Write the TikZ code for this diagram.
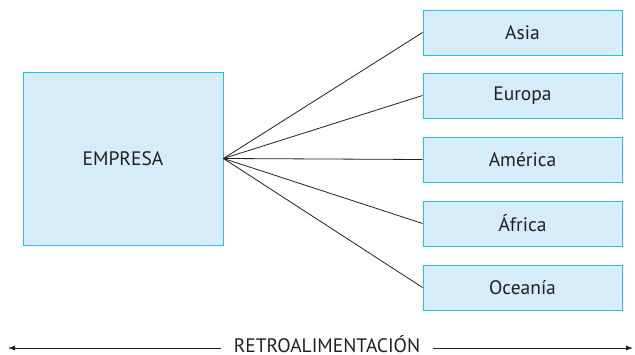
\documentclass[tikz,border=0pt]{standalone}
\usepackage{fontspec}
\setmainfont{PT Sans}
\usetikzlibrary{arrows.meta}
\definecolor{cajafondo}{RGB}{214,236,249}
\definecolor{cajaborde}{RGB}{40,190,235}
\definecolor{trazo}{RGB}{35,31,32}
\tikzset{
  caja/.style={draw=cajaborde, fill=cajafondo, line width=0.9pt, text=trazo, inner sep=0pt},
  region/.style={caja, minimum width=199pt, minimum height=45pt},
  enlace/.style={draw=trazo, line width=0.8pt}
}
\begin{document}
\begin{tikzpicture}[x=1pt, y=-1pt, font=\fontsize{19.5}{22}\selectfont]
	\useasboundingbox (0,0) rectangle (635,355);
	\node[caja, minimum width=200pt, minimum height=173pt] (empresa) at (123,158.5) {EMPRESA};
	\node[region] (asia) at (522.5,32.5) {Asia};
	\node[region] (europa) at (522.5,95.5) {Europa};
	\node[region] (america) at (522.5,159.5) {América};
	\node[region] (africa) at (522.5,223.5) {África};
	\node[region] (oceania) at (522.5,287.5) {Oceanía};
	\foreach \r in {asia,europa,america,africa,oceania}
		\draw [enlace] (empresa.east) -- (\r.west);
	% retroalimentación
	\node[text=trazo, anchor=base, inner sep=0pt] (retro) at (327,352.5) {RETROALIMENTACIÓN};
	\coordinate (izq) at (8,348);
	\coordinate (der) at (633,348);
	\draw [enlace, -{Latex[length=7pt,width=5pt]}] (retro.west |- izq) ++(-13,0) -- (izq);
	\draw [enlace, -{Latex[length=7pt,width=5pt]}] (retro.east |- der) ++(13,0) -- (der);
\end{tikzpicture}
\end{document}
